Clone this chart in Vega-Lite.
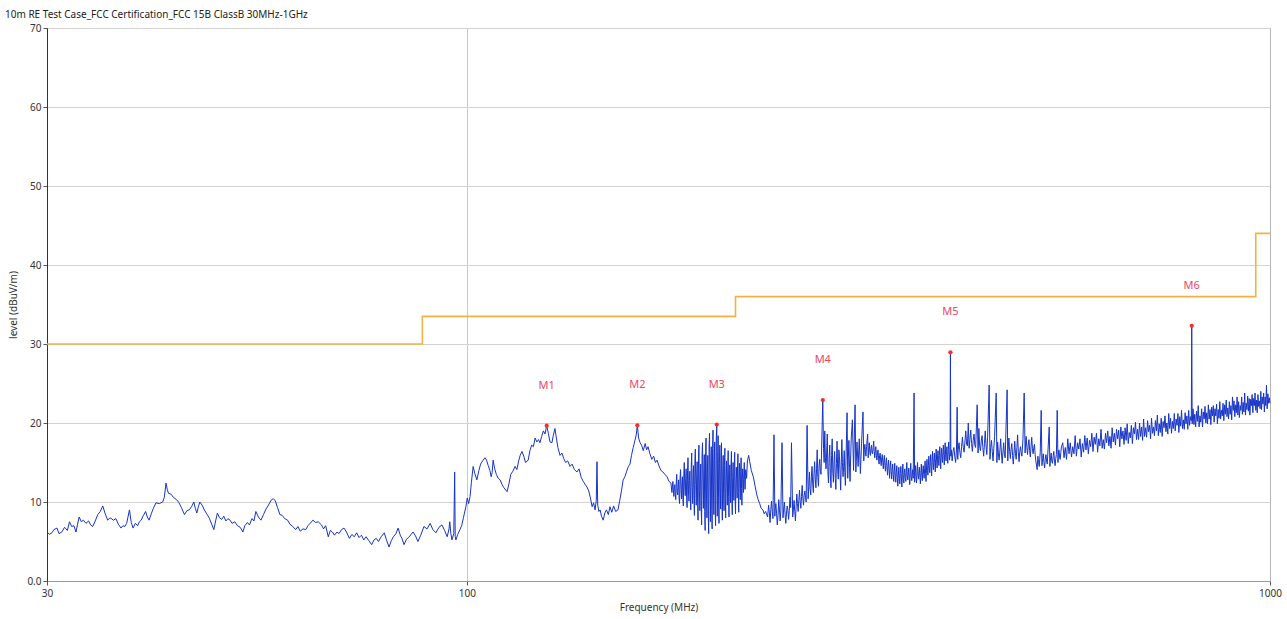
{
"$schema": "https://vega.github.io/schema/vega-lite/v6.json",
"width": 1223, "height": 553,
"autosize": {"type": "none"},
"padding": {"left": 47, "top": 28, "right": 17, "bottom": 38},
"background": "white",
"title": {"text": "10m RE Test Case_FCC Certification_FCC 15B ClassB 30MHz-1GHz", "anchor": "start", "frame": "group", "dx": -42, "offset": 3, "fontSize": 10, "font": "Noto Sans", "fontWeight": "normal", "color": "#222"},
"config": {"view": {"stroke": "#b4b4b4", "strokeWidth": 1}, "font": "Noto Sans"},
"datasets": {
"limit": [{"f":30,"v":30},{"f":88,"v":33.5},{"f":216,"v":36},{"f":960,"v":44},{"f":1000,"v":44}],
"mk": [{"f":125.7,"v":19.66,"m":"M1"},{"f":163.0,"v":19.7,"m":"M2"},{"f":204.7,"v":19.8,"m":"M3"},{"f":277.4,"v":22.9,"m":"M4"},{"f":400.0,"v":28.95,"m":"M5"},{"f":799,"v":32.3,"m":"M6"}],
"trace": [
{"f":30.0,"v":6.2},{"f":30.2,"v":5.9},{"f":30.43,"v":6.1},{"f":30.6,"v":6.5},{"f":30.87,"v":6.7},{"f":31.05,"v":6.0},{"f":31.3,"v":6.2},{"f":31.55,"v":6.8},{"f":31.8,"v":6.4},{"f":32.0,"v":7.5},{"f":32.2,"v":6.9},{"f":32.4,"v":7.0},{"f":32.6,"v":6.2},{"f":32.75,"v":7.2},{"f":32.9,"v":8.1},{"f":33.1,"v":7.5},{"f":33.3,"v":7.7},{"f":33.55,"v":7.3},{"f":33.8,"v":7.6},{"f":34.0,"v":7.1},{"f":34.2,"v":6.9},{"f":34.45,"v":7.6},{"f":34.7,"v":8.4},{"f":34.95,"v":8.8},{"f":35.2,"v":9.5},{"f":35.45,"v":8.5},{"f":35.7,"v":7.7},{"f":35.95,"v":8.0},{"f":36.3,"v":7.7},{"f":36.55,"v":7.9},{"f":36.8,"v":7.2},{"f":37.1,"v":6.7},{"f":37.3,"v":7.0},{"f":37.5,"v":6.9},{"f":37.7,"v":7.3},{"f":38.0,"v":9.0},{"f":38.2,"v":7.4},{"f":38.4,"v":6.7},{"f":38.65,"v":7.3},{"f":38.9,"v":7.0},{"f":39.1,"v":7.5},{"f":39.3,"v":7.7},{"f":39.55,"v":8.3},{"f":39.8,"v":8.8},{"f":40.0,"v":8.1},{"f":40.2,"v":7.7},{"f":40.45,"v":8.5},{"f":40.7,"v":9.2},{"f":41.0,"v":9.9},{"f":41.4,"v":9.8},{"f":41.8,"v":10.0},{"f":42.0,"v":10.6},{"f":42.2,"v":12.4},{"f":42.35,"v":11.6},{"f":42.5,"v":11.1},{"f":42.8,"v":11.0},{"f":43.1,"v":10.6},{"f":43.5,"v":10.3},{"f":43.8,"v":9.9},{"f":44.1,"v":9.3},{"f":44.5,"v":8.4},{"f":44.8,"v":8.9},{"f":45.1,"v":9.0},{"f":45.4,"v":9.4},{"f":45.7,"v":10.0},{"f":45.9,"v":9.2},{"f":46.1,"v":8.6},{"f":46.3,"v":9.4},{"f":46.5,"v":10.0},{"f":46.8,"v":9.6},{"f":47.1,"v":9.0},{"f":47.5,"v":8.4},{"f":47.8,"v":7.9},{"f":48.1,"v":7.2},{"f":48.4,"v":6.5},{"f":48.65,"v":7.6},{"f":48.9,"v":8.6},{"f":49.2,"v":8.0},{"f":49.5,"v":7.8},{"f":49.8,"v":8.2},{"f":50.1,"v":7.6},{"f":50.4,"v":7.9},{"f":50.7,"v":7.7},{"f":51.0,"v":7.3},{"f":51.4,"v":7.5},{"f":51.8,"v":7.0},{"f":52.2,"v":6.8},{"f":52.6,"v":6.2},{"f":52.9,"v":7.0},{"f":53.3,"v":7.4},{"f":53.6,"v":7.1},{"f":54.0,"v":7.9},{"f":54.3,"v":7.6},{"f":54.6,"v":8.8},{"f":55.0,"v":8.1},{"f":55.4,"v":7.7},{"f":55.8,"v":8.4},{"f":56.2,"v":9.1},{"f":56.6,"v":9.6},{"f":57.1,"v":10.3},{"f":57.4,"v":10.4},{"f":57.7,"v":10.2},{"f":58.1,"v":9.3},{"f":58.5,"v":8.4},{"f":58.9,"v":8.3},{"f":59.3,"v":7.9},{"f":59.8,"v":7.7},{"f":60.2,"v":7.2},{"f":60.7,"v":6.9},{"f":61.2,"v":6.5},{"f":61.6,"v":6.9},{"f":62.0,"v":6.3},{"f":62.5,"v":6.6},{"f":63.0,"v":6.5},{"f":63.4,"v":7.0},{"f":63.8,"v":7.3},{"f":64.3,"v":7.7},{"f":64.8,"v":7.4},{"f":65.3,"v":7.5},{"f":65.9,"v":7.1},{"f":66.3,"v":6.6},{"f":66.7,"v":7.0},{"f":67.2,"v":5.6},{"f":67.6,"v":6.4},{"f":68.0,"v":6.2},{"f":68.4,"v":5.8},{"f":68.9,"v":6.2},{"f":69.3,"v":6.0},{"f":69.8,"v":6.5},{"f":70.3,"v":6.7},{"f":70.8,"v":6.2},{"f":71.4,"v":5.4},{"f":71.9,"v":5.9},{"f":72.4,"v":5.6},{"f":72.9,"v":6.1},{"f":73.4,"v":5.5},{"f":73.9,"v":5.8},{"f":74.4,"v":5.2},{"f":74.9,"v":5.6},{"f":75.5,"v":5.1},{"f":76.1,"v":4.6},{"f":76.6,"v":5.2},{"f":77.1,"v":5.4},{"f":77.6,"v":5.0},{"f":78.2,"v":5.6},{"f":78.9,"v":6.1},{"f":79.4,"v":5.2},{"f":80.0,"v":4.3},{"f":80.5,"v":5.1},{"f":81.0,"v":5.6},{"f":81.6,"v":6.0},{"f":82.1,"v":6.7},{"f":82.6,"v":5.8},{"f":83.0,"v":5.4},{"f":83.5,"v":4.6},{"f":84.1,"v":5.3},{"f":84.6,"v":5.5},{"f":85.2,"v":5.9},{"f":85.7,"v":6.2},{"f":86.3,"v":5.7},{"f":86.9,"v":5.0},{"f":87.6,"v":5.8},{"f":88.4,"v":6.9},{"f":89.2,"v":6.6},{"f":90.0,"v":7.3},{"f":90.7,"v":6.5},{"f":91.5,"v":6.1},{"f":92.3,"v":6.8},{"f":93.1,"v":7.1},{"f":93.8,"v":6.4},{"f":94.5,"v":5.6},{"f":95.0,"v":6.6},{"f":95.2,"v":7.5},{"f":95.5,"v":6.0},{"f":95.8,"v":5.2},{"f":96.3,"v":6.0},{"f":96.55,"v":13.8},{"f":96.7,"v":5.6},{"f":96.9,"v":5.2},{"f":97.4,"v":5.9},{"f":98.0,"v":6.5},{"f":98.5,"v":7.0},{"f":99.0,"v":8.0},{"f":99.3,"v":8.6},{"f":99.7,"v":9.4},{"f":100.1,"v":10.5},
{"f":100.5,"v":9.8},{"f":100.9,"v":10.7},{"f":101.3,"v":12.5},{"f":101.8,"v":14.5},{"f":102.3,"v":13.6},{"f":102.9,"v":12.8},{"f":103.5,"v":14.0},{"f":104.0,"v":14.8},{"f":104.6,"v":15.2},{"f":105.3,"v":15.6},{"f":105.8,"v":15.3},{"f":106.3,"v":14.6},{"f":106.8,"v":14.0},{"f":107.2,"v":13.2},{"f":107.5,"v":13.7},{"f":107.8,"v":15.3},{"f":108.3,"v":14.2},{"f":108.8,"v":13.5},{"f":109.4,"v":13.0},{"f":110.0,"v":12.8},{"f":110.6,"v":12.2},{"f":111.2,"v":11.8},{"f":112.2,"v":11.3},{"f":112.8,"v":12.3},{"f":113.4,"v":13.5},{"f":114.1,"v":13.9},{"f":114.8,"v":14.5},{"f":115.4,"v":14.1},{"f":116.0,"v":15.2},{"f":116.5,"v":15.9},{"f":117.1,"v":16.4},{"f":117.7,"v":15.8},{"f":118.3,"v":15.0},{"f":119.2,"v":15.3},{"f":119.8,"v":16.5},{"f":120.4,"v":17.2},{"f":121.0,"v":17.0},{"f":121.6,"v":18.1},{"f":122.2,"v":17.6},{"f":122.8,"v":17.9},{"f":123.3,"v":17.5},{"f":123.9,"v":18.3},{"f":124.5,"v":19.0},{"f":125.1,"v":18.6},{"f":125.7,"v":19.66},{"f":126.3,"v":18.7},{"f":126.9,"v":17.6},{"f":127.6,"v":17.5},{"f":128.1,"v":18.4},{"f":128.7,"v":19.3},{"f":129.2,"v":18.2},{"f":129.8,"v":16.9},{"f":130.6,"v":15.9},{"f":131.3,"v":16.2},{"f":132.0,"v":15.5},{"f":132.7,"v":15.0},{"f":133.5,"v":15.2},{"f":134.4,"v":14.5},{"f":135.2,"v":14.8},{"f":136.1,"v":14.1},{"f":137.1,"v":13.8},{"f":137.9,"v":14.2},{"f":138.8,"v":13.1},{"f":139.6,"v":12.6},{"f":140.4,"v":12.2},{"f":141.1,"v":11.9},{"f":141.8,"v":11.4},{"f":142.5,"v":10.5},{"f":143.2,"v":9.4},{"f":143.8,"v":9.9},{"f":144.4,"v":9.0},{"f":144.9,"v":10.2},{"f":145.2,"v":15.1},{"f":145.5,"v":9.6},{"f":146.0,"v":8.8},{"f":146.5,"v":9.0},{"f":147.1,"v":8.2},{"f":147.8,"v":7.7},{"f":148.5,"v":8.6},{"f":149.2,"v":9.0},{"f":150.0,"v":8.4},{"f":150.7,"v":9.4},{"f":151.5,"v":8.7},{"f":152.3,"v":9.5},{"f":153.2,"v":8.8},{"f":154.2,"v":9.0},{"f":155.0,"v":10.2},{"f":155.8,"v":11.5},{"f":156.5,"v":12.8},{"f":157.3,"v":13.2},{"f":158.1,"v":13.9},{"f":158.9,"v":14.5},{"f":159.6,"v":14.8},{"f":160.3,"v":15.9},{"f":161.1,"v":16.9},{"f":161.9,"v":17.8},{"f":162.5,"v":18.5},{"f":163.0,"v":19.7},{"f":163.6,"v":18.1},{"f":164.3,"v":17.5},{"f":165.0,"v":17.2},{"f":165.8,"v":16.5},{"f":166.7,"v":17.4},{"f":167.4,"v":16.6},{"f":168.1,"v":17.0},{"f":169.0,"v":16.1},{"f":169.9,"v":15.4},{"f":170.8,"v":15.8},{"f":171.7,"v":15.0},{"f":172.5,"v":15.3},{"f":173.4,"v":14.6},{"f":174.4,"v":14.0},{"f":175.4,"v":13.8},{"f":176.4,"v":13.5},{"f":177.5,"v":13.2},{"f":178.5,"v":12.6},{"f":179.5,"v":12.4},
{"f":180.0,"v":11.2},{"f":180.25,"v":12.0},{"f":180.5,"v":12.6},{"f":180.75,"v":11.5},{"f":181.0,"v":10.7},{"f":181.25,"v":11.9},{"f":181.5,"v":12.2},{"f":181.75,"v":11.0},{"f":182.0,"v":10.3},{"f":182.25,"v":12.4},{"f":182.5,"v":13.5},{"f":182.75,"v":11.3},{"f":183.0,"v":10.9},{"f":183.25,"v":12.0},{"f":183.5,"v":12.8},{"f":183.75,"v":10.5},{"f":184.0,"v":9.8},{"f":184.25,"v":13.0},{"f":184.5,"v":14.1},{"f":184.75,"v":11.6},{"f":185.0,"v":10.4},{"f":185.25,"v":12.5},{"f":185.5,"v":13.2},{"f":185.75,"v":10.3},{"f":186.0,"v":9.5},{"f":186.25,"v":13.6},{"f":186.5,"v":15.0},{"f":186.75,"v":12.0},{"f":187.0,"v":10.8},{"f":187.25,"v":12.9},{"f":187.5,"v":14.2},{"f":187.75,"v":10.6},{"f":188.0,"v":9.3},{"f":188.25,"v":14.0},{"f":188.5,"v":15.6},{"f":188.75,"v":11.4},{"f":189.0,"v":10.1},{"f":189.25,"v":12.7},{"f":189.5,"v":13.9},{"f":189.75,"v":10.9},{"f":190.0,"v":9.0},{"f":190.25,"v":14.4},{"f":190.5,"v":16.2},{"f":190.75,"v":11.8},{"f":191.0,"v":9.8},{"f":191.25,"v":13.0},{"f":191.5,"v":14.6},{"f":191.75,"v":10.2},{"f":192.0,"v":8.3},{"f":192.25,"v":15.1},{"f":192.5,"v":16.7},{"f":192.75,"v":12.2},{"f":193.0,"v":9.6},{"f":193.25,"v":13.3},{"f":193.5,"v":15.1},{"f":193.75,"v":9.9},{"f":194.0,"v":7.7},{"f":194.25,"v":15.5},{"f":194.5,"v":17.2},{"f":194.75,"v":11.5},{"f":195.0,"v":8.9},{"f":195.25,"v":12.8},{"f":195.5,"v":14.8},{"f":195.75,"v":9.4},{"f":196.0,"v":7.1},{"f":196.25,"v":16.0},{"f":196.5,"v":17.5},{"f":196.75,"v":12.4},{"f":197.0,"v":9.2},{"f":197.25,"v":14.1},{"f":197.5,"v":16.0},{"f":197.75,"v":8.8},{"f":198.0,"v":6.4},{"f":198.25,"v":16.4},{"f":198.5,"v":18.1},{"f":198.75,"v":11.0},{"f":199.0,"v":8.0},{"f":199.25,"v":13.7},{"f":199.5,"v":15.9},{"f":199.75,"v":8.5},{"f":200.0,"v":6.0},{"f":200.25,"v":17.2},{"f":200.5,"v":18.7},{"f":200.75,"v":12.3},{"f":201.0,"v":7.5},{"f":201.25,"v":14.9},{"f":201.5,"v":17.0},{"f":201.75,"v":9.1},{"f":202.0,"v":6.6},{"f":202.25,"v":16.8},{"f":202.5,"v":19.1},{"f":202.75,"v":11.4},{"f":203.0,"v":8.4},{"f":203.25,"v":15.2},{"f":203.5,"v":17.6},{"f":203.75,"v":9.5},{"f":204.0,"v":7.0},{"f":204.35,"v":17.5},{"f":204.7,"v":19.8},{"f":204.85,"v":12.0},{"f":205.0,"v":8.2},{"f":205.25,"v":15.8},{"f":205.5,"v":18.4},{"f":205.75,"v":10.6},{"f":206.0,"v":7.3},{"f":206.25,"v":14.9},{"f":206.5,"v":17.2},{"f":206.75,"v":11.8},{"f":207.0,"v":9.1},{"f":207.25,"v":15.7},{"f":207.5,"v":17.5},{"f":207.75,"v":10.0},{"f":208.0,"v":7.7},{"f":208.25,"v":13.8},{"f":208.5,"v":15.9},{"f":208.75,"v":11.1},{"f":209.0,"v":8.9},{"f":209.25,"v":14.6},{"f":209.5,"v":16.8},{"f":209.75,"v":10.4},{"f":210.0,"v":8.0},{"f":210.25,"v":13.5},{"f":210.5,"v":15.2},{"f":210.75,"v":12.0},{"f":211.0,"v":9.6},{"f":211.25,"v":14.2},{"f":211.5,"v":16.5},{"f":211.75,"v":10.7},{"f":212.0,"v":8.1},{"f":212.25,"v":12.9},{"f":212.5,"v":14.7},{"f":212.75,"v":11.6},{"f":213.0,"v":9.9},{"f":213.25,"v":14.8},{"f":213.5,"v":16.4},{"f":213.75,"v":10.5},{"f":214.0,"v":8.4},{"f":214.25,"v":13.1},{"f":214.5,"v":15.0},{"f":214.75,"v":12.3},{"f":215.0,"v":10.2},{"f":215.25,"v":14.5},{"f":215.5,"v":16.3},{"f":215.75,"v":10.9},{"f":216.0,"v":8.5},{"f":216.25,"v":12.6},{"f":216.5,"v":14.4},{"f":216.75,"v":12.8},{"f":217.0,"v":10.5},{"f":217.25,"v":14.3},{"f":217.5,"v":16.1},{"f":217.75,"v":11.2},{"f":218.0,"v":8.7},{"f":218.25,"v":13.0},{"f":218.5,"v":14.9},{"f":218.75,"v":12.5},{"f":219.0,"v":10.3},{"f":219.25,"v":13.9},{"f":219.5,"v":15.6},{"f":219.75,"v":11.7},{"f":220.0,"v":9.6},{"f":220.25,"v":12.8},{"f":220.5,"v":14.2},{"f":220.75,"v":12.9},{"f":221.0,"v":11.2},{"f":221.25,"v":13.6},{"f":221.5,"v":15.0},{"f":221.75,"v":12.8},{"f":222.0,"v":11.6},{"f":222.25,"v":13.2},{"f":222.5,"v":14.1},{"f":222.75,"v":13.5},{"f":223.0,"v":13.0},{"f":223.5,"v":15.2},{"f":224.3,"v":15.9},{"f":225.0,"v":15.1},{"f":226.0,"v":14.0},{"f":227.3,"v":13.2},{"f":228.5,"v":12.0},{"f":229.5,"v":11.0},{"f":230.5,"v":10.3},{"f":231.5,"v":9.8},{"f":232.5,"v":9.2},{"f":233.7,"v":9.0},{"f":234.5,"v":8.5},{"f":235.5,"v":8.8},{"f":236.8,"v":8.1},
{"f":237.5,"v":9.6},{"f":238.0,"v":8.6},{"f":238.5,"v":7.4},{"f":239.0,"v":9.0},{"f":239.5,"v":10.1},{"f":240.0,"v":8.8},{"f":240.5,"v":7.9},{"f":241.2,"v":18.5},{"f":241.8,"v":8.2},{"f":242.0,"v":9.0},{"f":242.5,"v":9.8},{"f":243.0,"v":8.5},{"f":243.5,"v":7.1},{"f":244.0,"v":8.3},{"f":244.5,"v":10.3},{"f":245.0,"v":9.1},{"f":245.5,"v":7.6},{"f":246.0,"v":8.9},{"f":246.8,"v":17.5},{"f":247.5,"v":8.0},{"f":248.0,"v":9.1},{"f":248.5,"v":10.0},{"f":249.0,"v":8.4},{"f":249.5,"v":7.3},{"f":250.0,"v":8.6},{"f":250.5,"v":9.5},{"f":251.0,"v":9.0},{"f":251.5,"v":7.8},{"f":252.0,"v":8.9},{"f":252.5,"v":10.6},{"f":253.0,"v":9.3},{"f":253.6,"v":17.5},{"f":254.5,"v":8.1},{"f":255.0,"v":9.0},{"f":255.5,"v":10.2},{"f":256.0,"v":8.8},{"f":256.5,"v":7.6},{"f":257.0,"v":9.4},{"f":257.5,"v":11.0},{"f":258.0,"v":9.8},{"f":258.5,"v":8.8},{"f":259.0,"v":10.2},{"f":259.5,"v":11.5},{"f":260.0,"v":10.0},{"f":260.5,"v":9.2},{"f":261.0,"v":10.7},{"f":261.5,"v":12.1},{"f":262.0,"v":10.5},{"f":262.5,"v":9.6},{"f":263.0,"v":10.8},{"f":263.5,"v":11.4},{"f":264.0,"v":10.6},{"f":264.5,"v":10.0},{"f":265.2,"v":19.7},{"f":266.0,"v":10.4},{"f":266.5,"v":12.0},{"f":267.0,"v":13.8},{"f":267.5,"v":11.6},{"f":268.0,"v":10.9},{"f":268.5,"v":13.2},{"f":269.0,"v":14.5},{"f":269.5,"v":12.3},{"f":270.0,"v":11.2},{"f":270.5,"v":13.6},{"f":271.0,"v":15.1},{"f":271.5,"v":12.9},{"f":272.0,"v":11.8},{"f":272.5,"v":14.2},{"f":273.0,"v":16.6},{"f":273.5,"v":13.1},{"f":274.0,"v":12.0},{"f":274.5,"v":14.6},{"f":275.0,"v":15.4},{"f":275.5,"v":13.9},{"f":276.0,"v":13.5},{"f":277.4,"v":22.9},{"f":278.0,"v":16.8},{"f":278.5,"v":15.0},{"f":279.0,"v":19.0},{"f":279.5,"v":15.6},{"f":280.0,"v":14.2},{"f":280.5,"v":16.2},{"f":281.0,"v":18.6},{"f":281.5,"v":13.9},{"f":282.0,"v":12.4},{"f":282.5,"v":15.5},{"f":283.0,"v":17.2},{"f":283.5,"v":13.5},{"f":284.0,"v":11.8},{"f":284.5,"v":15.9},{"f":285.0,"v":18.0},{"f":285.5,"v":13.8},{"f":286.0,"v":12.5},{"f":286.5,"v":15.1},{"f":287.0,"v":16.4},{"f":287.5,"v":13.0},{"f":288.0,"v":11.6},{"f":288.5,"v":14.9},{"f":289.0,"v":17.7},{"f":289.5,"v":14.2},{"f":290.0,"v":12.9},{"f":290.5,"v":16.6},{"f":291.0,"v":15.8},{"f":291.5,"v":13.6},{"f":292.0,"v":11.5},{"f":292.5,"v":14.8},{"f":293.0,"v":17.9},{"f":293.5,"v":15.0},{"f":294.0,"v":13.2},{"f":294.5,"v":14.5},{"f":295.0,"v":16.5},{"f":295.5,"v":13.7},{"f":296.0,"v":12.1},{"f":296.5,"v":15.3},{"f":297.4,"v":21.3},{"f":298.0,"v":13.0},{"f":298.5,"v":15.6},{"f":299.0,"v":17.8},{"f":299.5,"v":14.4},{"f":300.0,"v":12.6},{"f":300.5,"v":15.7},{"f":301.0,"v":18.1},{"f":302.0,"v":20.4},{"f":303.0,"v":14.0},{"f":304.3,"v":22.3},{"f":305.0,"v":13.8},{"f":306.0,"v":17.6},{"f":307.0,"v":14.5},{"f":308.0,"v":18.0},{"f":309.0,"v":13.6},{"f":310.0,"v":17.4},{"f":311.3,"v":21.4},{"f":312.0,"v":15.2},{"f":312.5,"v":16.6},{"f":313.0,"v":17.3},{"f":313.5,"v":16.3},{"f":314.0,"v":15.8},{"f":314.5,"v":17.0},{"f":315.5,"v":18.6},{"f":316.0,"v":15.6},{"f":316.5,"v":16.7},{"f":317.0,"v":17.5},{"f":317.5,"v":16.3},{"f":318.0,"v":15.9},{"f":318.5,"v":16.8},{"f":319.0,"v":17.2},{"f":319.5,"v":16.2},{"f":320.0,"v":16.1},{"f":320.5,"v":16.9},{"f":321.0,"v":17.7},{"f":321.5,"v":16.4},{"f":322.0,"v":15.6},{"f":322.5,"v":16.6},{"f":323.0,"v":17.0},{"f":323.5,"v":15.9},{"f":324.0,"v":15.3},{"f":324.5,"v":16.2},{"f":325.0,"v":16.6},{"f":325.5,"v":15.5},{"f":326.0,"v":14.8},{"f":326.5,"v":15.9},{"f":327.0,"v":16.2},{"f":327.5,"v":15.2},{"f":328.0,"v":14.6},{"f":328.5,"v":15.6},{"f":329.0,"v":16.0},{"f":329.5,"v":15.0},{"f":330.0,"v":14.2},{"f":330.5,"v":15.3},{"f":331.0,"v":15.9},{"f":331.5,"v":14.6},{"f":332.0,"v":13.9},{"f":332.5,"v":15.0},{"f":333.0,"v":15.6},{"f":333.5,"v":14.3},{"f":334.0,"v":13.4},{"f":334.5,"v":14.7},{"f":335.0,"v":15.3},{"f":335.5,"v":14.0},{"f":336.0,"v":13.0},{"f":336.5,"v":14.5},{"f":337.0,"v":15.2},{"f":337.5,"v":13.9},{"f":338.0,"v":12.9},{"f":338.5,"v":14.1},{"f":339.0,"v":14.8},{"f":339.5,"v":13.5},{"f":340.0,"v":12.6},{"f":340.5,"v":13.9},{"f":341.0,"v":14.9},{"f":341.5,"v":13.3},{"f":342.0,"v":12.5},{"f":342.5,"v":13.8},{"f":343.0,"v":14.6},{"f":343.5,"v":13.1},{"f":344.0,"v":12.0},{"f":344.5,"v":13.4},{"f":345.0,"v":14.4},{"f":345.5,"v":13.0},{"f":346.0,"v":12.3},{"f":346.5,"v":13.6},{"f":347.0,"v":14.5},{"f":347.5,"v":13.2},{"f":348.0,"v":11.9},{"f":348.5,"v":13.5},{"f":349.0,"v":14.8},{"f":349.5,"v":12.9},{"f":350.0,"v":12.4},{"f":350.5,"v":13.7},{"f":351.0,"v":14.2},{"f":351.5,"v":13.1},{"f":352.0,"v":12.6},{"f":352.5,"v":13.9},{"f":353.0,"v":15.0},{"f":353.5,"v":13.3},{"f":354.0,"v":12.8},{"f":354.5,"v":13.6},{"f":355.0,"v":14.3},{"f":355.5,"v":13.0},{"f":356.0,"v":12.2},{"f":356.5,"v":13.8},{"f":357.0,"v":14.9},{"f":357.5,"v":13.2},{"f":358.0,"v":12.7},{"f":358.5,"v":13.5},{"f":359.0,"v":14.1},{"f":359.5,"v":13.0},{"f":360.4,"v":23.8},{"f":361.0,"v":12.5},{"f":361.5,"v":13.7},{"f":362.0,"v":14.6},{"f":362.5,"v":13.2},{"f":363.0,"v":12.4},{"f":363.5,"v":13.9},{"f":364.0,"v":15.0},{"f":364.5,"v":13.4},{"f":365.0,"v":12.9},{"f":365.5,"v":13.8},{"f":366.0,"v":14.4},{"f":366.5,"v":13.1},{"f":367.0,"v":12.3},{"f":367.5,"v":13.7},{"f":368.0,"v":14.8},{"f":368.5,"v":13.4},{"f":369.0,"v":12.7},{"f":369.5,"v":13.9},{"f":370.0,"v":14.6},{"f":370.5,"v":13.5},{"f":371.0,"v":13.0},{"f":371.5,"v":14.2},{"f":372.0,"v":15.2},{"f":372.5,"v":13.6},{"f":373.0,"v":12.6},{"f":373.5,"v":14.3},{"f":374.0,"v":15.4},{"f":374.5,"v":14.0},{"f":375.0,"v":13.4},{"f":375.5,"v":14.6},{"f":376.0,"v":15.8},{"f":376.5,"v":14.4},{"f":377.0,"v":13.7},{"f":377.5,"v":15.0},{"f":378.0,"v":16.0},{"f":378.5,"v":14.6},{"f":379.0,"v":13.3},{"f":379.5,"v":15.1},{"f":380.0,"v":16.4},{"f":380.5,"v":15.0},{"f":381.0,"v":14.1},{"f":381.5,"v":15.3},{"f":382.0,"v":16.2},{"f":382.5,"v":14.9},{"f":383.0,"v":13.8},{"f":383.5,"v":15.5},{"f":384.0,"v":16.7},{"f":384.5,"v":15.3},{"f":385.0,"v":14.3},{"f":385.5,"v":15.7},{"f":386.0,"v":16.5},{"f":386.5,"v":15.4},{"f":387.0,"v":14.6},{"f":387.5,"v":15.9},{"f":388.0,"v":17.0},{"f":388.5,"v":15.6},{"f":389.0,"v":14.2},{"f":389.5,"v":15.8},{"f":390.0,"v":16.8},{"f":390.5,"v":15.7},{"f":391.0,"v":15.0},{"f":391.5,"v":16.3},{"f":392.0,"v":17.2},{"f":392.5,"v":15.9},{"f":393.0,"v":14.7},{"f":393.5,"v":16.2},{"f":394.0,"v":17.5},{"f":394.5,"v":16.0},{"f":395.0,"v":15.2},{"f":395.5,"v":16.4},{"f":396.0,"v":17.0},{"f":396.5,"v":15.8},{"f":397.0,"v":14.9},{"f":397.5,"v":16.5},{"f":398.0,"v":17.6},{"f":398.5,"v":16.2},{"f":399.0,"v":15.3},{"f":399.6,"v":16.2},{"f":400.0,"v":28.95},{"f":400.5,"v":15.8},{"f":401.0,"v":16.6},
{"f":402.0,"v":15.2},{"f":403.0,"v":16.4},{"f":404.0,"v":16.9},{"f":405.0,"v":15.8},{"f":406.0,"v":15.0},{"f":407.0,"v":16.7},{"f":407.8,"v":22.0},{"f":408.5,"v":15.4},{"f":409.0,"v":16.6},{"f":410.0,"v":17.5},{"f":411.0,"v":16.3},{"f":412.0,"v":15.6},{"f":413.0,"v":17.0},{"f":414.0,"v":18.2},{"f":415.0,"v":16.9},{"f":416.0,"v":16.3},{"f":417.0,"v":17.6},{"f":418.0,"v":19.0},{"f":419.0,"v":17.3},{"f":420.0,"v":17.1},{"f":421.0,"v":20.0},{"f":422.0,"v":16.8},{"f":423.0,"v":17.9},{"f":424.0,"v":19.1},{"f":425.0,"v":17.4},{"f":426.0,"v":16.4},{"f":427.0,"v":17.8},{"f":428.0,"v":18.6},{"f":429.0,"v":17.2},{"f":430.0,"v":16.9},{"f":431.9,"v":22.3},{"f":433.0,"v":16.2},{"f":434.0,"v":19.3},{"f":435.0,"v":17.0},{"f":436.0,"v":16.5},{"f":437.0,"v":17.7},{"f":438.0,"v":18.4},{"f":439.0,"v":16.9},{"f":440.0,"v":15.8},{"f":441.0,"v":17.4},{"f":442.0,"v":19.0},{"f":443.0,"v":17.1},{"f":444.0,"v":16.0},{"f":445.0,"v":18.2},{"f":447.0,"v":24.8},{"f":448.0,"v":15.4},{"f":449.0,"v":16.9},{"f":450.0,"v":17.8},{"f":451.0,"v":16.4},{"f":452.0,"v":15.2},{"f":453.0,"v":16.8},{"f":454.0,"v":18.3},{"f":456.1,"v":23.8},{"f":457.0,"v":15.0},{"f":458.0,"v":17.6},{"f":459.0,"v":16.1},{"f":460.0,"v":15.3},{"f":461.0,"v":16.6},{"f":462.0,"v":18.0},{"f":463.0,"v":16.2},{"f":464.0,"v":14.9},{"f":465.0,"v":16.3},{"f":466.0,"v":17.5},{"f":467.0,"v":16.0},{"f":468.0,"v":15.6},{"f":470.6,"v":24.2},{"f":471.5,"v":15.2},{"f":472.0,"v":16.6},{"f":473.0,"v":18.1},{"f":474.0,"v":16.4},{"f":475.0,"v":15.5},{"f":476.0,"v":16.7},{"f":477.0,"v":17.4},{"f":478.0,"v":15.9},{"f":479.0,"v":14.8},{"f":480.0,"v":16.2},{"f":481.0,"v":17.7},{"f":482.0,"v":16.1},{"f":483.0,"v":15.4},{"f":484.0,"v":16.9},{"f":485.0,"v":18.5},{"f":486.0,"v":16.3},{"f":487.0,"v":15.1},{"f":488.0,"v":16.4},{"f":489.0,"v":17.0},{"f":490.0,"v":16.2},{"f":491.0,"v":15.8},{"f":492.5,"v":18.0},{"f":494.2,"v":23.8},{"f":495.5,"v":16.2},{"f":496.0,"v":17.1},{"f":497.0,"v":18.3},{"f":498.0,"v":16.9},{"f":499.0,"v":16.0},{"f":500.0,"v":17.2},{"f":501.0,"v":17.9},{"f":502.0,"v":16.5},{"f":503.0,"v":15.7},{"f":504.0,"v":17.0},{"f":505.0,"v":18.2},{"f":506.0,"v":16.8},{"f":507.0,"v":16.1},{"f":508.0,"v":16.9},{"f":509.0,"v":17.3},{"f":510.0,"v":16.0},{"f":511.0,"v":15.2},{"f":512.9,"v":14.1},{"f":514.0,"v":15.8},{"f":515.0,"v":15.0},{"f":516.0,"v":14.5},{"f":517.5,"v":16.3},{"f":518.9,"v":21.6},{"f":520.0,"v":14.6},{"f":521.0,"v":15.5},{"f":522.0,"v":16.1},{"f":523.0,"v":15.0},{"f":524.0,"v":14.3},{"f":525.0,"v":15.4},{"f":526.0,"v":16.0},{"f":527.0,"v":15.2},{"f":528.0,"v":14.8},{"f":531.0,"v":19.5},{"f":532.0,"v":14.5},{"f":533.0,"v":15.6},{"f":534.0,"v":16.2},{"f":535.0,"v":15.1},{"f":536.0,"v":14.9},{"f":537.0,"v":15.8},{"f":538.0,"v":16.4},{"f":539.0,"v":15.3},{"f":540.0,"v":14.6},{"f":541.0,"v":15.5},{"f":542.0,"v":16.0},{"f":543.3,"v":21.6},{"f":544.5,"v":15.0},{"f":545.0,"v":15.9},{"f":546.0,"v":16.6},{"f":547.0,"v":15.7},{"f":548.0,"v":15.4},{"f":549.0,"v":16.3},{"f":550.0,"v":17.0},
{"f":552,"v":17.5},{"f":554,"v":15.6},{"f":556,"v":16.9},{"f":558,"v":15.4},{"f":560,"v":18.0},{"f":562,"v":16.1},{"f":564,"v":17.5},{"f":566,"v":15.7},{"f":568,"v":17.0},{"f":570,"v":16.1},{"f":572,"v":18.4},{"f":574,"v":15.8},{"f":576,"v":17.5},{"f":578,"v":16.7},{"f":580,"v":18.0},{"f":582,"v":15.7},{"f":584,"v":17.4},{"f":586,"v":16.3},{"f":588,"v":18.4},{"f":590,"v":16.6},{"f":592,"v":18.1},{"f":594,"v":16.1},{"f":596,"v":17.8},{"f":598,"v":17.0},{"f":600,"v":18.7},
{"f":602,"v":16.4},{"f":604,"v":18.2},{"f":606,"v":17.3},{"f":608,"v":18.7},{"f":610,"v":16.3},{"f":612,"v":18.0},{"f":614,"v":17.1},{"f":616,"v":19.2},{"f":618,"v":16.8},{"f":620,"v":17.9},{"f":622,"v":16.7},{"f":624,"v":18.7},{"f":626,"v":17.5},{"f":628,"v":19.0},{"f":630,"v":17.1},{"f":632,"v":18.3},{"f":634,"v":16.8},{"f":636,"v":19.4},{"f":638,"v":17.6},{"f":640,"v":18.7},{"f":642,"v":17.2},{"f":644,"v":19.2},{"f":646,"v":18.0},{"f":648,"v":19.1},{"f":650,"v":17.0},
{"f":652,"v":19.5},{"f":654,"v":18.0},{"f":656,"v":19.0},{"f":658,"v":17.3},{"f":660,"v":19.4},{"f":662,"v":17.8},{"f":664,"v":19.9},{"f":666,"v":17.4},{"f":668,"v":18.8},{"f":670,"v":18.1},{"f":672,"v":19.7},{"f":674,"v":17.4},{"f":676,"v":19.4},{"f":678,"v":18.6},{"f":680,"v":20.1},{"f":682,"v":17.9},{"f":684,"v":19.2},{"f":686,"v":17.9},{"f":688,"v":20.0},{"f":690,"v":18.3},{"f":692,"v":19.5},{"f":694,"v":17.8},{"f":696,"v":20.5},{"f":698,"v":18.3},{"f":700,"v":19.4},
{"f":702,"v":18.2},{"f":704,"v":20.3},{"f":706,"v":18.9},{"f":708,"v":19.7},{"f":710,"v":18.0},{"f":712,"v":20.6},{"f":714,"v":18.7},{"f":716,"v":19.5},{"f":718,"v":18.4},{"f":720,"v":20.3},{"f":722,"v":19.0},{"f":724,"v":21.0},{"f":726,"v":18.4},{"f":728,"v":19.9},{"f":730,"v":18.8},{"f":732,"v":20.6},{"f":734,"v":18.3},{"f":736,"v":20.2},{"f":738,"v":19.4},{"f":740,"v":20.9},{"f":742,"v":18.9},{"f":744,"v":20.0},{"f":746,"v":18.6},{"f":748,"v":21.2},{"f":750,"v":19.3},
{"f":752,"v":20.6},{"f":754,"v":18.7},{"f":756,"v":20.2},{"f":758,"v":19.3},{"f":760,"v":21.2},{"f":762,"v":19.0},{"f":764,"v":20.5},{"f":766,"v":19.7},{"f":768,"v":21.2},{"f":770,"v":18.8},{"f":772,"v":20.8},{"f":774,"v":19.6},{"f":776,"v":21.6},{"f":778,"v":19.3},{"f":780,"v":20.4},{"f":782,"v":19.2},{"f":784,"v":21.3},{"f":786,"v":19.9},{"f":788,"v":20.9},{"f":790,"v":19.2},{"f":792,"v":21.6},{"f":794,"v":19.7},{"f":796,"v":20.8},{"f":798,"v":20.3},{"f":799,"v":32.3},{"f":800,"v":19.9},
{"f":802,"v":21.8},{"f":804,"v":19.8},{"f":806,"v":21.1},{"f":808,"v":19.5},{"f":810,"v":21.5},{"f":812,"v":20.2},{"f":814,"v":22.2},{"f":816,"v":19.5},{"f":818,"v":20.9},{"f":820,"v":20.1},{"f":822,"v":21.8},{"f":824,"v":19.5},{"f":826,"v":21.4},{"f":828,"v":20.5},{"f":830,"v":22.1},{"f":832,"v":20.0},{"f":834,"v":21.3},{"f":836,"v":19.9},{"f":838,"v":22.3},{"f":840,"v":20.5},{"f":842,"v":21.7},{"f":844,"v":19.8},{"f":846,"v":22.0},{"f":848,"v":20.9},{"f":850,"v":22.2},
{"f":852,"v":20.1},{"f":854,"v":21.8},{"f":856,"v":20.9},{"f":858,"v":22.4},{"f":860,"v":19.9},{"f":862,"v":21.7},{"f":864,"v":20.6},{"f":866,"v":22.7},{"f":868,"v":20.5},{"f":870,"v":21.6},{"f":872,"v":20.9},{"f":874,"v":22.5},{"f":876,"v":20.3},{"f":878,"v":22.3},{"f":880,"v":21.1},{"f":882,"v":22.9},{"f":884,"v":20.8},{"f":886,"v":21.9},{"f":888,"v":20.5},{"f":890,"v":22.7},{"f":892,"v":21.1},{"f":894,"v":22.2},{"f":896,"v":20.4},{"f":898,"v":23.3},{"f":900,"v":21.6},
{"f":902,"v":22.8},{"f":904,"v":20.8},{"f":906,"v":22.3},{"f":908,"v":21.3},{"f":910,"v":23.3},{"f":912,"v":21.0},{"f":914,"v":22.7},{"f":916,"v":20.7},{"f":918,"v":22.2},{"f":920,"v":21.6},{"f":922,"v":23.3},{"f":924,"v":21.1},{"f":926,"v":22.6},{"f":928,"v":21.4},{"f":930,"v":23.8},{"f":932,"v":21.0},{"f":934,"v":22.5},{"f":936,"v":21.7},{"f":938,"v":23.4},{"f":940,"v":21.5},{"f":942,"v":23.1},{"f":944,"v":21.0},{"f":946,"v":23.0},{"f":948,"v":22.2},{"f":950,"v":23.6},
{"f":952,"v":21.3},{"f":954,"v":23.1},{"f":956,"v":22.2},{"f":958,"v":23.8},{"f":960,"v":21.6},{"f":962,"v":22.9},{"f":964,"v":21.3},{"f":966,"v":23.6},{"f":968,"v":22.1},{"f":970,"v":22.8},{"f":972,"v":21.8},{"f":974,"v":24.0},{"f":976,"v":21.7},{"f":978,"v":23.3},{"f":980,"v":22.4},{"f":982,"v":23.8},{"f":984,"v":21.4},{"f":986,"v":23.3},{"f":988,"v":22.2},{"f":989,"v":23.5},{"f":990,"v":24.8},{"f":991,"v":23.0},{"f":992,"v":21.8},{"f":994,"v":23.7},{"f":996,"v":22.5},{"f":998,"v":23.2},{"f":1000,"v":22.5}
]},
"encoding": {
"x": {"field": "f", "type": "quantitative", "scale": {"type": "log", "domain": [30, 1000], "nice": false},
 "axis": {"values": [30, 100, 1000], "format": "d", "labelFlush": false, "title": "Frequency (MHz)", "grid": true,
  "gridColor": {"condition": {"test": "datum.value == 100", "value": "#c8c8c8"}, "value": "transparent"},
  "domainColor": "#9a9a9a", "tickColor": "#555", "tickSize": 4, "labelFontSize": 10, "labelColor": "#333", "labelPadding": 3,
  "titleFontSize": 10, "titleFontWeight": "normal", "titleColor": "#333", "titlePadding": 4}},
"y": {"field": "v", "type": "quantitative", "scale": {"domain": [0, 70], "nice": false, "zero": false},
 "axis": {"values": [0, 10, 20, 30, 40, 50, 60, 70], "labelExpr": "datum.value == 0 ? '0.0' : datum.label", "title": "level (dBuV/m)", "grid": true, "gridColor": "#d2d2d2",
  "domainColor": "#333", "tickColor": "#555", "tickSize": 4, "labelFontSize": 10, "labelColor": "#333", "labelPadding": 2,
  "titleFontSize": 10, "titleFontWeight": "normal", "titleColor": "#333", "titlePadding": 8}}
},
"layer": [
{"data": {"name": "limit"}, "mark": {"type": "line", "interpolate": "step-after", "color": "#F5B142", "strokeWidth": 1.6}},
{"data": {"name": "trace"}, "mark": {"type": "line", "color": "#1634C8", "strokeWidth": 1}},
{"data": {"name": "mk"}, "mark": {"type": "point", "filled": true, "color": "#FF2A2A", "size": 18, "opacity": 1}},
{"data": {"name": "mk"}, "mark": {"type": "text", "dy": -40, "color": "#EE4466", "fontSize": 11, "font": "Noto Sans"}, "encoding": {"text": {"field": "m"}}}
]
}
